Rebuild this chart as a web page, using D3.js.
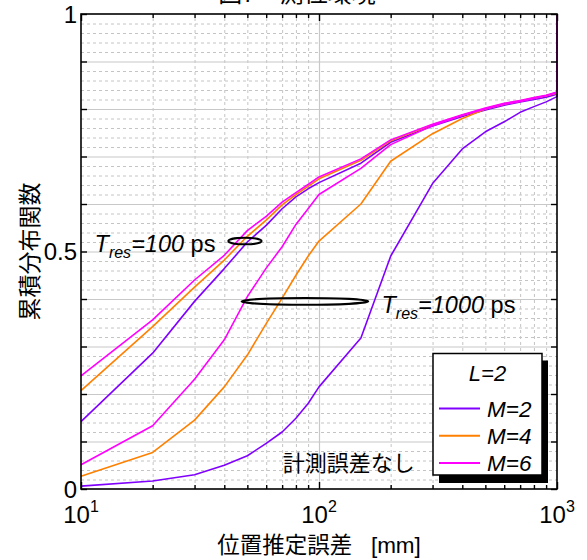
<!DOCTYPE html>
<html>
<head>
<meta charset="utf-8">
<script src="https://cdn.jsdelivr.net/npm/d3@7"></script>
<style>
    body { margin: 0; background: #fff; }
    text { font-family: Arial, "Liberation Sans", "Noto Sans CJK JP", sans-serif; fill: #000; }
</style>
</head>
<body>
<div id="chart"></div>
<script>
// position error [mm] where the CDF was read
let errMm = [10, 20, 30, 40, 50, 60, 70, 80, 90, 100, 150, 200, 300, 400, 500, 600, 700, 800, 900, 1000];

// Tres = 1000 ps
let cdf1000M2 = [0.006, 0.017, 0.030, 0.050, 0.070, 0.096, 0.120, 0.149, 0.180, 0.215, 0.318, 0.490, 0.643, 0.716, 0.752, 0.773, 0.793, 0.805, 0.815, 0.826];
let cdf1000M4 = [0.027, 0.077, 0.145, 0.215, 0.282, 0.348, 0.402, 0.450, 0.490, 0.522, 0.600, 0.690, 0.748, 0.780, 0.800, 0.810, 0.817, 0.823, 0.828, 0.833];
let cdf1000M6 = [0.051, 0.133, 0.231, 0.314, 0.405, 0.465, 0.510, 0.557, 0.590, 0.620, 0.675, 0.725, 0.765, 0.787, 0.800, 0.810, 0.816, 0.822, 0.828, 0.834];

// Tres = 100 ps
let cdf100M2 = [0.142, 0.286, 0.395, 0.464, 0.520, 0.555, 0.590, 0.615, 0.632, 0.645, 0.686, 0.730, 0.764, 0.784, 0.798, 0.808, 0.815, 0.820, 0.825, 0.831];
let cdf100M4 = [0.207, 0.342, 0.425, 0.482, 0.532, 0.566, 0.598, 0.620, 0.637, 0.653, 0.692, 0.733, 0.767, 0.787, 0.801, 0.811, 0.817, 0.823, 0.828, 0.835];
let cdf100M6 = [0.238, 0.356, 0.440, 0.492, 0.544, 0.574, 0.604, 0.624, 0.641, 0.657, 0.695, 0.735, 0.768, 0.788, 0.802, 0.812, 0.818, 0.824, 0.829, 0.836];

let seriesNames = ["M=2", "M=4", "M=6"];
let seriesColors = ["#8000ff", "#ff8000", "#ff00ff"];

let yTickLabels = [0, 0.5, 1];
let xTickLabels = [10, 100, 1000];

let width = 587,
    height = 560;
let plotLeft = 81, plotRight = 557, plotTop = 14, plotBottom = 489;

let svg = d3.select("#chart").append("svg")
    .attr("width", width)
    .attr("height", height);

let x = d3.scaleLog().domain([10, 1000]).range([plotLeft, plotRight]);
let y = d3.scaleLinear().domain([0, 1]).range([plotBottom, plotTop]);

let xMinor = [20, 30, 40, 50, 60, 70, 80, 90, 200, 300, 400, 500, 600, 700, 800, 900];
let yMajor = d3.range(1, 10).map(d => d / 10);
let yMinor = d3.range(1, 50).map(d => d / 50).filter(d => Math.round(d * 50) % 5 !== 0);

drawGrid();
drawCurves();
drawAxes();
drawAnnotations();
drawLegend();

function drawGrid() {
    // dashed minor grid
    svg.append("g")
        .attr("transform", "translate(0," + plotBottom + ")")
        .call(d3.axisBottom(x).tickValues(xMinor).tickSize(-(plotBottom - plotTop)).tickFormat(""))
        .call(g => g.select(".domain").remove())
        .selectAll("line")
        .attr("stroke", "#c4c4c4")
        .attr("stroke-dasharray", "3,3");

    svg.append("g")
        .attr("transform", "translate(" + plotLeft + ",0)")
        .call(d3.axisLeft(y).tickValues(yMinor).tickSize(-(plotRight - plotLeft)).tickFormat(""))
        .call(g => g.select(".domain").remove())
        .selectAll("line")
        .attr("stroke", "#c4c4c4")
        .attr("stroke-dasharray", "3,3");

    // solid major grid
    svg.append("g")
        .attr("transform", "translate(" + plotLeft + ",0)")
        .call(d3.axisLeft(y).tickValues(yMajor).tickSize(-(plotRight - plotLeft)).tickFormat(""))
        .call(g => g.select(".domain").remove())
        .selectAll("line")
        .attr("stroke", "#c8c8c8")
        .attr("stroke-width", 1.2);

    svg.append("g")
        .attr("transform", "translate(0," + plotBottom + ")")
        .call(d3.axisBottom(x).tickValues([100]).tickSize(-(plotBottom - plotTop)).tickFormat(""))
        .call(g => g.select(".domain").remove())
        .selectAll("line")
        .attr("stroke", "#c8c8c8")
        .attr("stroke-width", 1.2);
}

function drawCurves() {
    let line = d3.line()
        .x(d => x(d[0]))
        .y(d => y(d[1]));

    let groups = [
        [cdf1000M2, cdf1000M4, cdf1000M6],
        [cdf100M2, cdf100M4, cdf100M6]
    ];

    // draw M=2 first, M=6 last so magenta stays on top
    [0, 1, 2].forEach(function (m) {
        groups.forEach(function (g) {
            let pts = errMm.map((e, i) => [e, g[m][i]]);
            pts.push([1000, 1]);
            svg.append("path")
                .datum(pts)
                .attr("d", line)
                .attr("fill", "none")
                .attr("stroke", seriesColors[m])
                .attr("stroke-width", 1.6)
                .attr("stroke-linejoin", "round");
        });
    });
}

function drawAxes() {
    let yTicks = d3.range(0, 11).map(d => d / 10);
    let tickSets = [
        { axis: d3.axisBottom(x), pos: "translate(0," + plotBottom + ")", vals: xMinor, size: -4 },
        { axis: d3.axisBottom(x), pos: "translate(0," + plotBottom + ")", vals: xTickLabels, size: -7 },
        { axis: d3.axisTop(x), pos: "translate(0," + plotTop + ")", vals: xMinor, size: -4 },
        { axis: d3.axisTop(x), pos: "translate(0," + plotTop + ")", vals: xTickLabels, size: -7 },
        { axis: d3.axisLeft(y), pos: "translate(" + plotLeft + ",0)", vals: yTicks, size: -6 },
        { axis: d3.axisRight(y), pos: "translate(" + plotRight + ",0)", vals: yTicks, size: -6 }
    ];

    tickSets.forEach(function (t) {
        svg.append("g")
            .attr("transform", t.pos)
            .call(t.axis.tickValues(t.vals).tickSize(t.size).tickFormat(""))
            .call(g => g.select(".domain").remove())
            .selectAll("line")
            .attr("stroke", "#000")
            .attr("stroke-width", 1.4);
    });

    svg.append("rect")
        .attr("x", plotLeft)
        .attr("y", plotTop)
        .attr("width", plotRight - plotLeft)
        .attr("height", plotBottom - plotTop)
        .attr("fill", "none")
        .attr("stroke", "#000")
        .attr("stroke-width", 1.6);

    // y tick labels
    svg.selectAll(".ylab")
        .data(yTickLabels)
        .enter().append("text")
        .attr("class", "ylab")
        .attr("x", plotLeft - 4)
        .attr("y", d => y(d))
        .attr("dy", "0.36em")
        .attr("text-anchor", "end")
        .style("font-size", "24px")
        .text(d => d);

    // x tick labels 10^n
    let xl = svg.selectAll(".xlab")
        .data(xTickLabels)
        .enter().append("text")
        .attr("class", "xlab")
        .attr("x", d => x(d))
        .attr("y", 523)
        .attr("text-anchor", "middle")
        .style("font-size", "24px");
    xl.append("tspan").text("10");
    xl.append("tspan")
        .attr("dy", -11)
        .style("font-size", "16px")
        .text(d => Math.round(Math.log10(d)));

    svg.append("text")
        .attr("x", (plotLeft + plotRight) / 2)
        .attr("y", 553)
        .attr("text-anchor", "middle")
        .style("font-size", "22.5px")
        .text("位置推定誤差\u00a0\u00a0\u00a0[mm]");

    svg.append("text")
        .attr("transform", "translate(30," + ((plotTop + plotBottom) / 2) + ") rotate(-90)")
        .attr("dy", "0.36em")
        .attr("text-anchor", "middle")
        .style("font-size", "23px")
        .text("累積分布関数");

    // title, mostly above the window
    svg.append("text")
        .attr("x", 297)
        .attr("y", 2)
        .attr("text-anchor", "middle")
        .style("font-size", "24px")
        .text("図7　測位環境");
}

function drawAnnotations() {
    let ellipses = [
        { x0: 41.6, x1: 57.4, v: 0.522 },
        { x0: 47.3, x1: 161, v: 0.395 }
    ];
    svg.selectAll(".ring")
        .data(ellipses)
        .enter().append("ellipse")
        .attr("class", "ring")
        .attr("cx", d => (x(d.x0) + x(d.x1)) / 2)
        .attr("cy", d => y(d.v))
        .attr("rx", d => (x(d.x1) - x(d.x0)) / 2)
        .attr("ry", 3.3)
        .attr("fill", "none")
        .attr("stroke", "#000")
        .attr("stroke-width", 2);

    let labels = [
        { x: 11.4, v: 0.5, val: "=100" },
        { x: 183, v: 0.371, val: "=1000" }
    ];
    labels.forEach(function (d) {
        let t = svg.append("text")
            .attr("x", x(d.x))
            .attr("y", y(d.v))
            .style("font-size", "23.5px");
        t.append("tspan").style("font-style", "italic").text("T");
        t.append("tspan").attr("dy", 6).style("font-style", "italic").style("font-size", "16px").text("res");
        t.append("tspan").attr("dy", -6).style("font-style", "italic").text(d.val);
        t.append("tspan").text(" ps");
    });

    svg.append("text")
        .attr("x", x(70.5))
        .attr("y", y(0.038))
        .style("font-size", "22px")
        .text("計測誤差なし");
}

function drawLegend() {
    let lx = 433, ly = 353.5, lw = 109, lh = 121.5;
    let legend = svg.append("g");

    legend.append("rect")
        .attr("x", lx + 6)
        .attr("y", ly + 7)
        .attr("width", lw)
        .attr("height", lh + 1)
        .attr("fill", "#000");

    legend.append("rect")
        .attr("x", lx)
        .attr("y", ly)
        .attr("width", lw)
        .attr("height", lh)
        .attr("fill", "#fff")
        .attr("stroke", "#000")
        .attr("stroke-width", 1.5);

    legend.append("text")
        .attr("x", lx + lw / 2)
        .attr("y", ly + 27)
        .attr("text-anchor", "middle")
        .style("font-size", "22px")
        .style("font-style", "italic")
        .text("L=2");

    let rows = legend.selectAll(".row")
        .data(seriesNames)
        .enter().append("g")
        .attr("class", "row")
        .attr("transform", (d, i) => "translate(" + lx + "," + (ly + 55 + i * 27.2) + ")");

    rows.append("line")
        .attr("x1", 6)
        .attr("x2", 47)
        .attr("stroke", (d, i) => seriesColors[i])
        .attr("stroke-width", 2);

    rows.append("text")
        .attr("x", 54)
        .attr("y", 8)
        .style("font-size", "22.5px")
        .style("font-style", "italic")
        .text(d => d);
}
</script>
</body>
</html>
